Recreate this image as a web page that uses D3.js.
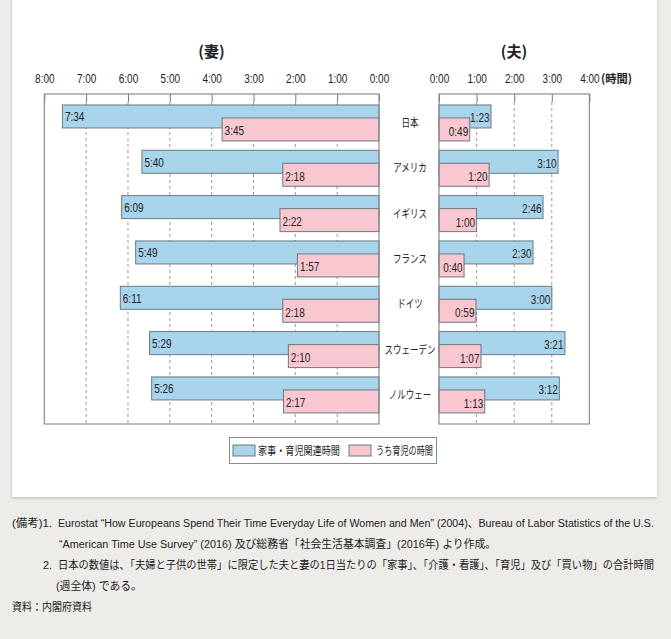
<!DOCTYPE html>
<html>
<head>
<meta charset="utf-8">
<script src="https://cdn.jsdelivr.net/npm/d3@7"></script>
<style>
  html, body { margin: 0; padding: 0; background: #eeece9; }
  svg { display: block; }
</style>
</head>
<body>
<svg id="chart" width="671" height="639"></svg>
<script>
// Housework & childcare time per day, couples with children under 6 (h:mm)
const countries = ["日本", "アメリカ", "イギリス", "フランス", "ドイツ", "スウェーデン", "ノルウェー"];
const wifeTotal = ["7:34", "5:40", "6:09", "5:49", "6:11", "5:29", "5:26"];
const wifeChild = ["3:45", "2:18", "2:22", "1:57", "2:18", "2:10", "2:17"];
const husbandTotal = ["1:23", "3:10", "2:46", "2:30", "3:00", "3:21", "3:12"];
const husbandChild = ["0:49", "1:20", "1:00", "0:40", "0:59", "1:07", "1:13"];
const wifeTicks = [8, 7, 6, 5, 4, 3, 2, 1, 0];
const husbandTicks = [0, 1, 2, 3, 4];
const seriesNames = ["家事・育児関連時間", "うち育児の時間"];
const panelTitles = ["(妻)", "(夫)"];
const unitLabel = "(時間)";
const notes = [
  { x: 12, y: 527, w: 40, t: "(備考)1." },
  { x: 58, y: 527, w: 597, t: "Eurostat “How Europeans Spend Their Time Everyday Life of Women and Men” (2004)、Bureau of Labor Statistics of the U.S." },
  { x: 59, y: 548, w: 438, t: "“American Time Use Survey” (2016) 及び総務省「社会生活基本調査」(2016年) より作成。" },
  { x: 43, y: 569, w: 9, t: "2." },
  { x: 58, y: 569, w: 597, t: "日本の数値は、「夫婦と子供の世帯」に限定した夫と妻の1日当たりの「家事」、「介護・看護」、「育児」及び「買い物」の合計時間" },
  { x: 56, y: 590, w: 86, t: "(週全体) である。" },
  { x: 12, y: 611, w: 80, t: "資料：内閣府資料" }
];

const BLUE = "#a8d5ec", PINK = "#f8c7cf", BAR_STROKE = "#6a7881";
const NUM_FONT = "'Liberation Sans', Arial, sans-serif";
const JP_FONT = "'Noto Sans CJK JP', sans-serif";
const NARROW = 0.8;   // horizontal squeeze for the condensed lettering

const toMinutes = s => { const [h, m] = s.split(":").map(Number); return h * 60 + m; };
const fmt = mins => `${Math.floor(mins / 60)}:${String(mins % 60).padStart(2, "0")}`;

const rows = countries.map((c, i) => ({
  country: c,
  wT: toMinutes(wifeTotal[i]), wC: toMinutes(wifeChild[i]),
  hT: toMinutes(husbandTotal[i]), hC: toMinutes(husbandChild[i])
}));

const svg = d3.select("#chart");

// squeeze a text to a given width, anchored at (x, y)
function fitText(sel, x, y, width) {
  sel.each(function (d) {
    const n = this.getComputedTextLength();
    const xx = typeof x === "function" ? x(d) : x;
    const yy = typeof y === "function" ? y(d) : y;
    const ww = typeof width === "function" ? width(d) : width;
    d3.select(this).attr("transform", `translate(${xx},${yy}) scale(${ww / n},1)`);
  });
}

// card with a soft shadow
const defs = svg.append("defs");
const f = defs.append("filter").attr("id", "shadow").attr("x", "-5%").attr("y", "-5%").attr("width", "110%").attr("height", "110%");
f.append("feDropShadow").attr("dx", 0).attr("dy", 1).attr("stdDeviation", 1.6).attr("flood-color", "#000").attr("flood-opacity", 0.22);
svg.append("rect").attr("x", 12).attr("y", -4).attr("width", 645).attr("height", 501)
  .attr("fill", "#fff").attr("filter", "url(#shadow)");

// scales
const plotTop = 94, plotBottom = 424;
const xW = d3.scaleLinear().domain([0, 8]).range([379, 44.3]);
const xH = d3.scaleLinear().domain([0, 4]).range([439, 589.4]);
const y = d3.scaleBand().domain(countries).range([100.3, 417.6]).padding(0);
const cy = c => y(c) + y.bandwidth() / 2;

function panel(x, ticks, gridVals) {
  const g = svg.append("g");
  const [x0, x1] = d3.extent(x.range());
  // dashed hour gridlines
  g.selectAll("line.grid").data(gridVals).join("line")
    .attr("x1", d => x(d)).attr("x2", d => x(d))
    .attr("y1", plotTop + 8).attr("y2", plotBottom)
    .attr("stroke", "#9a9a9a").attr("stroke-width", 1).attr("stroke-dasharray", "3,3");
  // top axis with labels
  const axis = d3.axisTop(x).tickValues(ticks).tickFormat(d => `${d}:00`)
    .tickSizeInner(-8).tickSizeOuter(0).tickPadding(11);
  const ag = g.append("g").attr("transform", `translate(0,${plotTop})`).call(axis);
  ag.select(".domain").remove();
  ag.selectAll(".tick line").attr("stroke", "#777");
  ag.selectAll(".tick text")
    .attr("font-family", NUM_FONT).attr("font-size", 12.5).attr("fill", "#222")
    .attr("y", null).attr("dy", null)
    .attr("transform", `translate(0,-11) scale(${NARROW},1)`);
  return { g, x0, x1 };
}

const pW = panel(xW, wifeTicks, [1, 2, 3, 4, 5, 6, 7]);
const pH = panel(xH, husbandTicks, [1, 2, 3]);

function valueLabels(g, data, xf, yf, anchor) {
  g.selectAll(null).data(data).join("text")
    .attr("text-anchor", anchor)
    .attr("font-family", NUM_FONT).attr("font-size", 12.5).attr("fill", "#222")
    .attr("transform", d => `translate(${xf(d)},${yf(d)}) scale(${NARROW},1)`)
    .text(d => d.label);
}

// wife bars (extend leftwards from 0:00)
const gW = svg.append("g");
gW.selectAll("rect.t").data(rows).join("rect")
  .attr("x", d => xW(d.wT / 60)).attr("width", d => xW(0) - xW(d.wT / 60))
  .attr("y", d => cy(d.country) - 18).attr("height", 23)
  .attr("fill", BLUE).attr("stroke", BAR_STROKE).attr("stroke-width", 1);
gW.selectAll("rect.c").data(rows).join("rect")
  .attr("x", d => xW(d.wC / 60)).attr("width", d => xW(0) - xW(d.wC / 60))
  .attr("y", d => cy(d.country) - 5).attr("height", 23)
  .attr("fill", PINK).attr("stroke", BAR_STROKE).attr("stroke-width", 1);
valueLabels(gW, rows.map(d => ({ v: d.wT, c: d.country, label: fmt(d.wT) })),
  d => xW(d.v / 60) + 2.5, d => cy(d.country || d.c) - 1.5, "start");
valueLabels(gW, rows.map(d => ({ v: d.wC, c: d.country, label: fmt(d.wC) })),
  d => xW(d.v / 60) + 2.5, d => cy(d.c) + 12.5, "start");

// husband bars (extend rightwards from 0:00)
const gH = svg.append("g");
gH.selectAll("rect.t").data(rows).join("rect")
  .attr("x", xH(0)).attr("width", d => xH(d.hT / 60) - xH(0))
  .attr("y", d => cy(d.country) - 18).attr("height", 23)
  .attr("fill", BLUE).attr("stroke", BAR_STROKE).attr("stroke-width", 1);
gH.selectAll("rect.c").data(rows).join("rect")
  .attr("x", xH(0)).attr("width", d => xH(d.hC / 60) - xH(0))
  .attr("y", d => cy(d.country) - 5).attr("height", 23)
  .attr("fill", PINK).attr("stroke", BAR_STROKE).attr("stroke-width", 1);
valueLabels(gH, rows.map(d => ({ v: d.hT, c: d.country, label: fmt(d.hT) })),
  d => xH(d.v / 60) - 1.5, d => cy(d.c) - 0.5, "end");
valueLabels(gH, rows.map(d => ({ v: d.hC, c: d.country, label: fmt(d.hC) })),
  d => xH(d.v / 60) - 1.5, d => cy(d.c) + 13, "end");

// panel frames
[pW, pH].forEach(p => {
  svg.append("rect").attr("x", p.x0).attr("y", plotTop).attr("width", p.x1 - p.x0).attr("height", plotBottom - plotTop)
    .attr("fill", "none").attr("stroke", "#8c8c8c").attr("stroke-width", 1.2);
});

// country labels between the panels
svg.append("g").selectAll("text").data(countries).join("text")
  .attr("transform", d => `translate(410,${cy(d) + 4}) scale(0.74,1)`)
  .attr("text-anchor", "middle")
  .attr("font-family", JP_FONT).attr("font-size", 11.5).attr("fill", "#222")
  .text(d => d);

// panel titles and unit
svg.append("text").attr("x", 211.5).attr("y", 57).attr("text-anchor", "middle")
  .attr("font-family", JP_FONT).attr("font-weight", "bold").attr("font-size", 15).attr("fill", "#222")
  .text(panelTitles[0]);
svg.append("text").attr("x", 514).attr("y", 57).attr("text-anchor", "middle")
  .attr("font-family", JP_FONT).attr("font-weight", "bold").attr("font-size", 15).attr("fill", "#222")
  .text(panelTitles[1]);
fitText(svg.append("text")
  .attr("font-family", JP_FONT).attr("font-weight", "bold").attr("font-size", 11.5).attr("fill", "#222")
  .text(unitLabel), 601, 83, 31);

// legend
const lg = svg.append("g");
lg.append("rect").attr("x", 229.5).attr("y", 437.5).attr("width", 207).attr("height", 26)
  .attr("fill", "#fff").attr("stroke", "#8c8c8c").attr("stroke-width", 1);
const legendItems = [
  { sx: 233, tx: 258, tw: 82, color: BLUE },
  { sx: 349, tx: 376, tw: 57, color: PINK }
];
legendItems.forEach((it, i) => {
  lg.append("rect").attr("x", it.sx).attr("y", 445).attr("width", 22).attr("height", 11)
    .attr("fill", it.color).attr("stroke", BAR_STROKE).attr("stroke-width", 1);
  fitText(lg.append("text")
    .attr("font-family", JP_FONT).attr("font-size", 11.5).attr("fill", "#222")
    .text(seriesNames[i]), it.tx, 455, it.tw);
});

// notes under the card
fitText(svg.append("g").selectAll("text").data(notes).join("text")
  .attr("font-family", "'Liberation Sans', 'Noto Sans CJK JP', sans-serif")
  .attr("font-size", 11.5).attr("fill", "#222")
  .text(d => d.t), d => d.x, d => d.y, d => d.w);
</script>
</body>
</html>
